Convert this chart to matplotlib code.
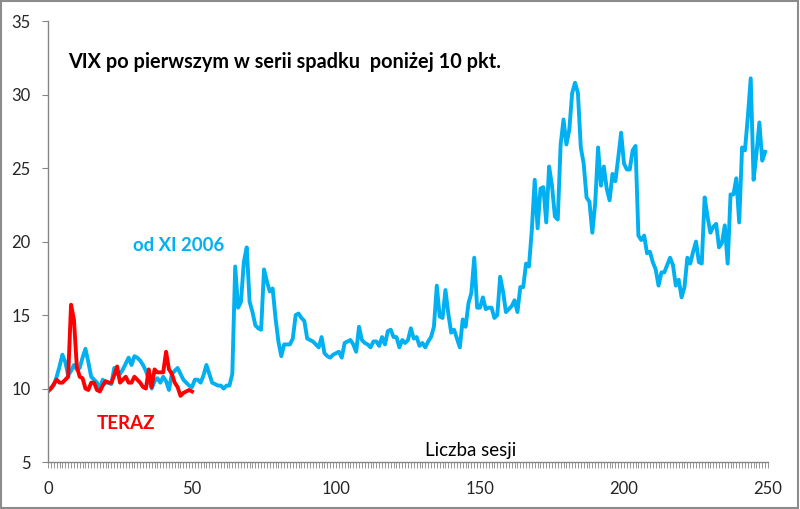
import matplotlib
matplotlib.use("Agg")
import matplotlib.pyplot as plt
from matplotlib.patches import Rectangle
from matplotlib.ticker import MultipleLocator

plt.rcParams["font.family"] = ["Lato", "DejaVu Sans"]

# VIX od XI 2006 (sesje 0..249)
vix_2006 = [
    10.0, 10.0, 10.2, 10.8, 11.5, 12.3, 11.8, 10.9, 11.2, 11.6,
    11.3, 11.4, 12.1, 12.7, 11.8, 10.8, 10.6, 10.4, 10.0, 10.6,
    10.4, 10.4, 10.3, 11.4, 11.0, 11.0, 11.3, 11.7, 12.1, 11.6,
    12.2, 12.1, 11.9, 11.6, 11.2, 10.6, 10.0, 10.5, 10.7, 10.4,
    10.8, 10.5, 9.9, 11.0, 11.2, 11.4, 11.0, 10.6, 10.4, 10.2,
    10.1, 10.6, 10.6, 10.4, 10.9, 11.6, 11.0, 10.4, 10.3, 10.2,
    10.2, 10.0, 10.2, 10.2, 11.0, 18.3, 15.5, 15.9, 18.6, 19.6,
    15.9, 15.2, 14.3, 14.1, 14.0, 18.1, 17.3, 16.6, 16.8, 14.8,
    13.2, 12.2, 13.0, 13.0, 13.0, 13.4, 15.0, 15.1, 14.8, 14.6,
    13.4, 13.3, 13.2, 13.0, 12.8, 13.5, 12.4, 12.2, 12.1, 12.3,
    12.4, 12.5, 12.1, 13.1, 13.2, 13.3, 13.0, 12.5, 14.2, 13.3,
    13.1, 13.0, 12.8, 13.2, 13.2, 12.9, 13.5, 13.0, 13.9, 14.0,
    13.5, 13.5, 12.8, 13.3, 13.1, 13.3, 14.1, 13.4, 13.5, 12.9,
    13.1, 12.8, 13.2, 13.5, 14.2, 17.0, 14.9, 14.8, 16.7, 15.1,
    13.8, 14.0, 13.4, 12.8, 14.7, 14.2, 15.8, 16.5, 18.9, 15.5,
    15.5, 16.2, 15.4, 15.5, 15.5, 14.8, 15.0, 17.6, 16.6, 15.2,
    15.4, 15.6, 16.0, 15.2, 16.9, 16.9, 18.5, 18.3, 20.8, 24.2,
    20.9, 23.6, 23.7, 21.3, 25.1, 23.8, 21.7, 21.5, 26.6, 28.3,
    26.6, 27.6, 30.1, 30.8, 30.1, 26.4, 25.3, 23.0, 22.7, 20.6,
    22.6, 26.4, 23.8, 25.1, 23.6, 22.8, 24.6, 24.1, 25.7, 27.4,
    25.3, 24.9, 24.9, 26.2, 26.5, 20.4, 20.1, 20.4, 19.2, 19.3,
    18.6, 18.1, 17.0, 17.9, 17.9, 18.4, 18.9, 18.4, 17.0, 17.4,
    16.2, 16.9, 18.9, 18.5, 19.3, 20.0, 18.6, 18.5, 23.0, 21.7,
    20.6, 21.0, 21.2, 19.6, 19.9, 21.1, 18.5, 23.2, 23.2, 24.3,
    21.3, 26.4, 26.2, 28.5, 31.1, 24.2, 26.0, 28.1, 25.5, 26.1,
]

# VIX teraz (sesje 0..50)
vix_now = [
    9.8, 10.0, 10.3, 10.6, 10.4, 10.4, 10.6, 10.8, 15.7, 14.7,
    11.5, 10.8, 10.7, 10.0, 9.9, 10.4, 10.4, 9.9, 9.8, 10.2,
    10.5, 10.4, 10.4, 10.9, 11.5, 10.4, 10.6, 10.8, 10.4, 10.4,
    10.8, 10.6, 10.4, 10.1, 10.0, 11.3, 10.1, 11.3, 11.1, 11.1,
    11.1, 12.5, 11.3, 11.0, 10.4, 10.1, 9.5, 9.7, 9.8, 9.9,
    9.8,
]

blue = "#00B0F0"
red = "#FF0000"
grey = "#868686"

fig = plt.figure(figsize=(8.0, 5.09), dpi=100)
ax = fig.add_axes([0.06, 0.0923, 0.90, 0.8664])

ax.plot(range(len(vix_2006)), vix_2006, color=blue, lw=2.8, solid_joinstyle="round")
ax.plot(range(len(vix_now)), vix_now, color=red, lw=2.8, solid_joinstyle="round")

ax.set_xlim(0, 250)
ax.set_ylim(5, 35)
ax.xaxis.set_major_locator(MultipleLocator(50))
ax.xaxis.set_minor_locator(MultipleLocator(1))
ax.yaxis.set_major_locator(MultipleLocator(5))

for side in ("top", "right"):
    ax.spines[side].set_visible(False)
for side in ("left", "bottom"):
    ax.spines[side].set_color(grey)
    ax.spines[side].set_linewidth(1.0)

ax.tick_params(axis="x", which="both", direction="out", length=4.5, width=0.6,
               color=grey, pad=9, labelsize=12, labelcolor="#262626")
ax.tick_params(axis="y", which="major", direction="out", length=4.5, width=0.8,
               color=grey, pad=8, labelsize=12, labelcolor="#262626")

ax.text(6.9, 32.2, "VIX po pierwszym w serii spadku  poniżej 10 pkt.",
        fontsize=14.3, fontweight="bold", va="center", ha="left", color="#000000")
ax.text(29.5, 19.75, "od XI 2006", fontsize=13.3, fontweight="bold",
        color=blue, va="center", ha="left")
ax.text(17.0, 7.65, "TERAZ", fontsize=13.5, fontweight="bold",
        color=red, va="center", ha="left")
ax.text(130.9, 5.8, "Liczba sesji", fontsize=13.5, color="#000000",
        va="center", ha="left")

fig.patches.append(Rectangle((0.001, 0.002), 0.997, 0.996, transform=fig.transFigure,
                             fill=False, edgecolor="#8C8C8C", lw=1.5))

fig.savefig("out.png", dpi=100)
